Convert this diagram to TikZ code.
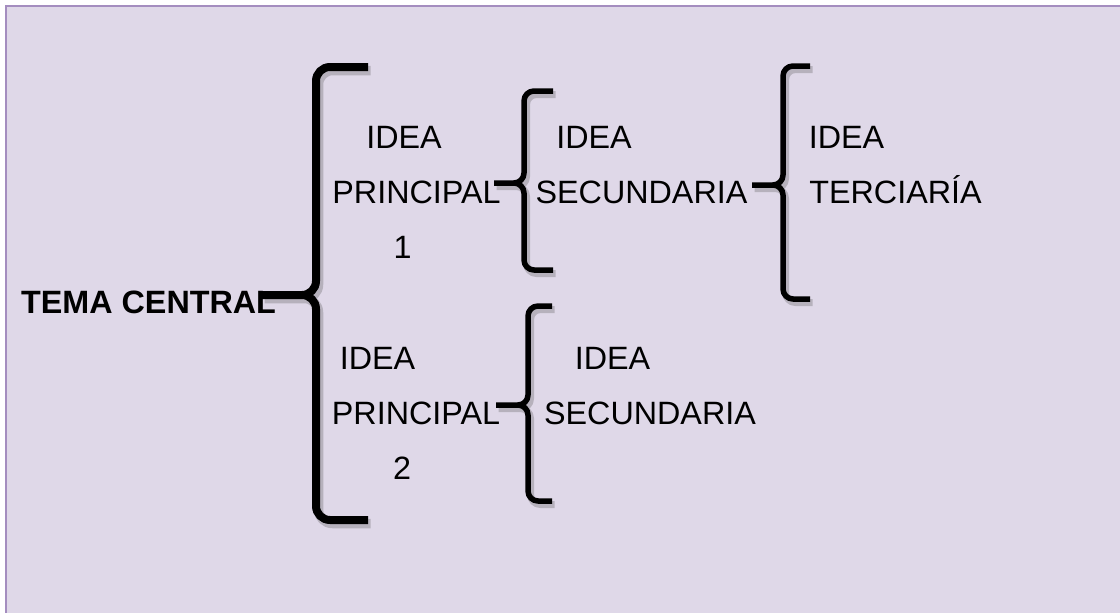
\documentclass[tikz,border=0pt]{standalone}
\usepackage{fontspec}
\setmainfont{Liberation Sans}
\definecolor{bgfill}{RGB}{223,216,232}
\definecolor{framec}{RGB}{164,141,191}
\tikzset{
  lbl/.style={font=\fontsize{32.3}{38}\selectfont, inner sep=0pt, anchor=base, text=black},
  title/.style={font=\fontsize{32.3}{38}\selectfont\bfseries, inner sep=0pt, anchor=base west, text=black},
  bracestroke/.style={draw=black, rounded corners=#1, line join=round},
  braceshadow/.style={draw=black!70, opacity=.28, rounded corners=#1, line join=round},
}
% #1 right end x, #2 vertical x, #3 top y, #4 bottom y, #5 tip y, #6 tip x, #7 width, #8 radius
\newcommand{\drawbrace}[8]{%
  \draw[braceshadow=#8, line width=#7+1.5pt, shift={(2.5,3.5)}]
    (#1,#3) -- (#2,#3) -- (#2,#5) -- (#6,#5)
    (#1,#4) -- (#2,#4) -- (#2,#5) -- (#6,#5);
  \draw[bracestroke=#8, line width=#7]
    (#1,#3) -- (#2,#3) -- (#2,#5) -- (#6,#5)
    (#1,#4) -- (#2,#4) -- (#2,#5) -- (#6,#5);
}
\begin{document}
\begin{tikzpicture}[x=1pt,y=-1pt]
  \useasboundingbox (0,0) rectangle (1120,613);
  \clip (0,0) rectangle (1120,613);
  \fill[bgfill] (6,6) rectangle (1135,630);
  \draw[framec, line width=2.8pt] (1135,6) -- (6,6) -- (6,630);

  % texts
  \node[title] (tema) at (21,313) {TEMA CENTRAL};

  \node[lbl] (pia) at (404,148) {IDEA};
  \node[lbl] (pib) at (416.5,203) {PRINCIPAL};
  \node[lbl] (pic) at (402.5,258) {1};

  \node[lbl] (sia) at (594,148) {IDEA};
  \node[lbl] (sib) at (641.5,203) {SECUNDARIA};

  \node[lbl] (tia) at (846.5,148) {IDEA};
  \node[lbl] (tib) at (895.5,203) {TERCIARÍA};

  \node[lbl] (pja) at (377.5,369) {IDEA};
  \node[lbl] (pjb) at (416,424) {PRINCIPAL};
  \node[lbl] (pjc) at (402,479) {2};

  \node[lbl] (sja) at (612.5,369) {IDEA};
  \node[lbl] (sjb) at (650,424) {SECUNDARIA};

  % braces
  \drawbrace{368}{316}{67}{520}{295}{262}{8pt}{14pt}
  \drawbrace{553}{524}{91}{270}{183}{494}{5.5pt}{10pt}
  \drawbrace{810}{783}{66}{299}{185}{752}{5.5pt}{10pt}
  \drawbrace{552}{528}{306}{501}{405}{496}{5.5pt}{10pt}
\end{tikzpicture}
\end{document}
